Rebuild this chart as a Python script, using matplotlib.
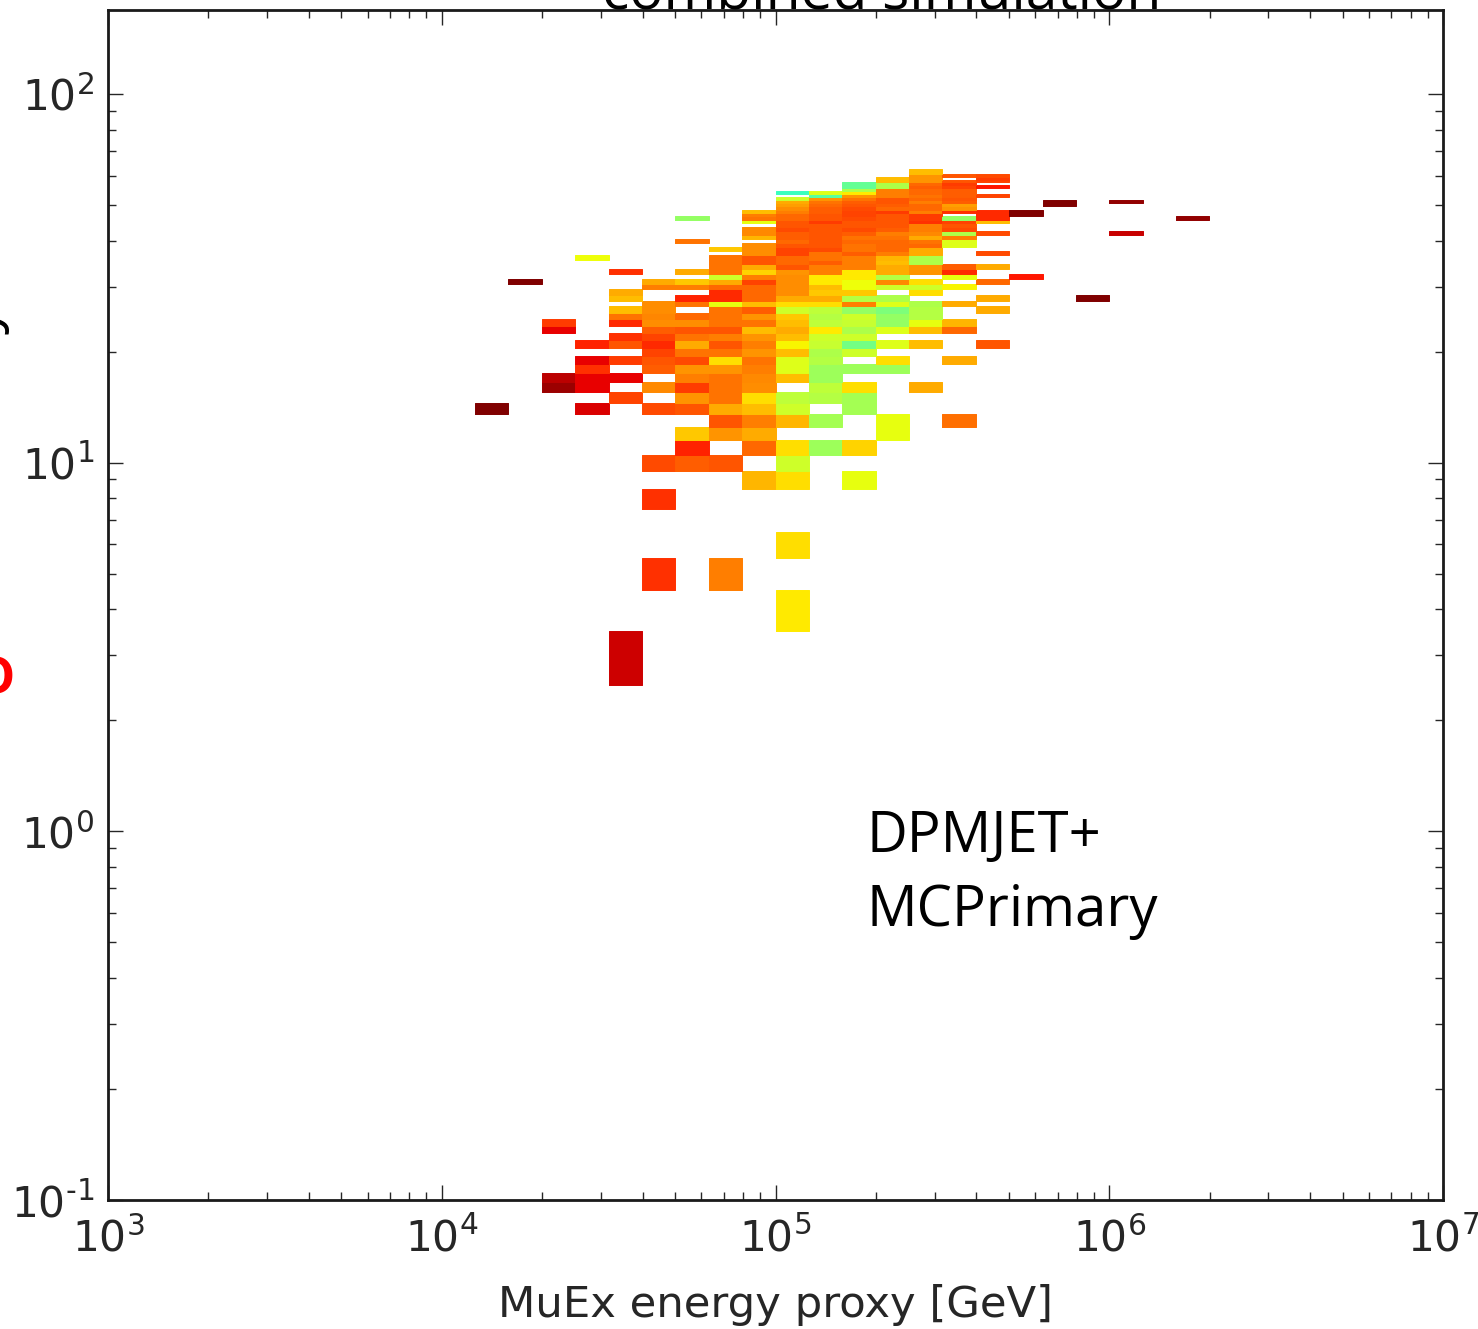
import numpy as np
import matplotlib
matplotlib.use("Agg")
import matplotlib.pyplot as plt
from matplotlib.ticker import FixedFormatter, NullFormatter

W, H = 1478, 1329

# Each column: {multiplicity bin: colour-scale value}; the column's name is log10(E) of the bin's left edge
c41 = {14: 1.0}
c42 = {31: 1.0}
c43 = {24: .83, 23: .90, 17: .94, 16: .97}
c44 = {36: .64, 21: .86, 19: .90, 18: .84, 17: .90, 16: .90, 14: .91}
c45 = {33: .84, 29: .72, 28: .70, 26: .70, 25: .77, 24: .85, 22: .84, 21: .80, 19: .83, 17: .90, 15: .82, 3: .925}
c46 = {31: .72, 30: .76, 27: .745, 26: .745, 25: .755, 24: .745, 23: .79, 22: .82, 21: .85, 20: .82,
       19: .80, 18: .79, 16: .75, 14: .81, 10: .81, 8: .84, 5: .84}
c47 = {46: .53, 40: .77, 33: .72, 31: .69, 30: .76, 28: .86, 27: .77, 25: .78, 24: .745, 23: .80, 22: .77,
       21: .72, 20: .77, 19: .81, 18: .74, 17: .76, 16: .83, 15: .74, 14: .80, 12: .69, 11: .86, 10: .79}
c48 = {38: .69, 36: .77, 35: .77, 34: .77, 33: .77, 32: .60, 31: .72, 30: .78, 29: .85, 28: .85, 27: .63,
       26: .77, 25: .77, 24: .77, 23: .80, 22: .76, 21: .80, 20: .77, 19: .67, 18: .74, 17: .77, 16: .77,
       15: .77, 14: .72, 13: .80, 12: .74, 10: .80, 5: .76}
c49 = {48: .70, 47: .76, 46: .77, 45: .63, 43: .75, 42: .75, 41: .71, 39: .745, 38: .745, 37: .745, 36: .80,
       35: .80, 34: .72, 33: .68, 32: .76, 31: .82, 30: .78, 29: .78, 28: .78, 27: .70, 26: .79, 25: .74,
       24: .77, 23: .70, 22: .74, 21: .76, 20: .74, 19: .77, 18: .76, 17: .75, 16: .745, 15: .67, 14: .70,
       13: .76, 12: .72, 11: .78, 9: .71}
c50 = {54: .42, 52: .60, 51: .72, 50: .73, 49: .745, 48: .76, 47: .78, 46: .78, 45: .80, 44: .80, 43: .81,
       42: .79, 41: .79, 40: .78, 39: .80, 38: .82, 37: .82, 36: .78, 35: .78, 34: .80, 33: .74, 32: .745,
       31: .745, 30: .745, 29: .745, 28: .72, 27: .67, 26: .60, 25: .69, 24: .70, 23: .72, 22: .70, 21: .65,
       20: .70, 19: .62, 18: .62, 17: .70, 15: .58, 14: .60, 13: .71, 11: .67, 10: .60, 9: .67, 6: .67, 4: .66}
c51 = {54: .62, 53: .46, 52: .74, 51: .77, 50: .78, 49: .79, 48: .79, 47: .80, 46: .80, 45: .83, 44: .80,
       43: .80, 42: .80, 41: .80, 40: .80, 39: .80, 38: .81, 37: .77, 36: .77, 35: .79, 34: .76, 33: .76,
       32: .66, 31: .66, 30: .70, 29: .69, 28: .72, 27: .67, 26: .58, 25: .57, 24: .58, 23: .66, 22: .60,
       21: .59, 20: .56, 19: .57, 18: .54, 17: .54, 16: .58, 15: .57, 13: .55, 11: .54}
c52 = {57: .47, 56: .47, 55: .56, 54: .66, 53: .74, 52: .77, 51: .79, 50: .80, 49: .81, 48: .82, 47: .82,
       46: .81, 45: .80, 44: .80, 43: .81, 42: .79, 41: .77, 40: .78, 39: .77, 38: .77, 37: .79, 36: .76,
       35: .76, 34: .76, 33: .66, 32: .66, 31: .64, 30: .64, 29: .69, 28: .57, 27: .76, 26: .53, 25: .60,
       24: .59, 23: .56, 22: .60, 21: .49, 20: .60, 18: .54, 16: .67, 15: .55, 14: .55, 11: .68, 9: .63}
c53 = {59: .70, 58: .70, 57: .56, 56: .56, 55: .76, 54: .76, 53: .76, 52: .80, 51: .80, 50: .79, 49: .78,
       48: .83, 47: .80, 46: .80, 45: .80, 44: .80, 43: .79, 42: .76, 41: .77, 40: .78, 39: .78, 38: .78,
       37: .76, 36: .71, 35: .70, 34: .72, 33: .72, 32: .57, 31: .75, 30: .60, 28: .56, 27: .62, 26: .50,
       25: .53, 24: .53, 23: .62, 21: .62, 19: .67, 18: .54, 13: .63, 12: .63}
c54 = {62: .70, 61: .70, 60: .74, 59: .74, 58: .74, 57: .78, 56: .79, 55: .78, 54: .78, 53: .77, 52: .78,
       51: .76, 50: .78, 49: .78, 48: .76, 47: .83, 46: .83, 45: .84, 44: .76, 43: .76, 42: .75, 41: .72,
       40: .77, 39: .78, 38: .72, 37: .72, 36: .56, 35: .56, 34: .74, 33: .74, 31: .67, 30: .60, 29: .67,
       27: .56, 26: .57, 25: .57, 24: .63, 23: .70, 21: .70, 16: .72}
c55 = {60: .80, 58: .80, 57: .83, 56: .82, 55: .79, 54: .79, 53: .79, 52: .80, 51: .79, 50: .73, 49: .74,
       48: .84, 46: .53, 45: .82, 44: .80, 43: .81, 42: .56, 41: .76, 40: .62, 39: .62, 34: .79, 33: .85,
       32: .63, 30: .65, 27: .72, 24: .71, 23: .78, 19: .72, 13: .775}
c56 = {60: .81, 59: .83, 58: .82, 56: .87, 53: .82, 48: .85, 47: .85, 46: .85, 45: .70, 42: .81, 37: .81,
       34: .72, 31: .78, 28: .72, 26: .72, 21: .80}
c57 = {48: 1.0, 47: 1.0, 32: .87}
c58 = {51: 1.0, 50: 1.0}
c59 = {28: 1.0}
c60 = {51: .98, 42: .93}
c61 = {}
c62 = {46: .98}

columns = [c41, c42, c43, c44, c45, c46, c47, c48, c49, c50, c51, c52,
           c53, c54, c55, c56, c57, c58, c59, c60, c61, c62]
first_bin = 4.1
bin_step = 0.1
x_ticks = [1e3, 1e4, 1e5, 1e6, 1e7]
x_tick_labels = [r"$\mathdefault{10^{3}}$", r"$\mathdefault{10^{4}}$", r"$\mathdefault{10^{5}}$",
                 r"$\mathdefault{10^{6}}$", r"$\mathdefault{10^{7}}$"]
y_ticks = [1e-1, 1e0, 1e1, 1e2]
y_tick_labels = [r"$\mathdefault{10^{\text{-}1}}$", r"$\mathdefault{10^{0}}$",
                 r"$\mathdefault{10^{1}}$", r"$\mathdefault{10^{2}}$"]
x_label = "MuEx energy proxy [GeV]"
note_lines = ["DPMJET+", "MCPrimary"]
clipped_title = "combined simulation"

n_max = 65
x_edges = 10.0 ** (first_bin + bin_step * np.arange(len(columns) + 1))
y_edges = np.arange(1, n_max + 2) - 0.5
cells = np.full((n_max, len(columns)), np.nan)
for i, col in enumerate(columns):
    for n, v in col.items():
        cells[n - 1, i] = v
# colour calibration of the estimates onto the jet scale
cells = np.interp(cells, [0.4, 0.64, 0.8, 0.9, 1.0], [0.4, 0.64, 0.82, 0.91, 1.0])

fig = plt.figure(figsize=(W / 100, H / 100), dpi=100, facecolor="white")
ax = fig.add_axes([108 / W, 1 - 1200 / H, (1443 - 108) / W, (1200 - 10) / H])
ax.pcolormesh(x_edges, y_edges, np.ma.masked_invalid(cells), cmap="jet", vmin=0, vmax=1,
              edgecolors="face", linewidth=0.7, antialiased=True)
ax.set_xscale("log")
ax.set_yscale("log")
ax.set_xlim(1e3, 1e7)
ax.set_ylim(1e-1, 10 ** (1 + (463.5 - 10) / 369.5))
ax.set_xticks(x_ticks)
ax.set_yticks(y_ticks)
ax.xaxis.set_major_formatter(FixedFormatter(x_tick_labels))
ax.yaxis.set_major_formatter(FixedFormatter(y_tick_labels))
ax.xaxis.set_minor_formatter(NullFormatter())
ax.yaxis.set_minor_formatter(NullFormatter())
ink = "#262626"
ax.tick_params(which="major", direction="in", length=10.5, width=1.0, top=True, right=True,
               labelsize=30.5, colors=ink)
ax.tick_params(axis="x", which="major", pad=13)
ax.tick_params(axis="y", which="major", pad=10)
ax.tick_params(which="minor", direction="in", length=5.5, width=1.0, top=True, right=True, colors=ink)
for s in ax.spines.values():
    s.set_linewidth(2.0)
    s.set_color("#1a1a1a")
ax.set_xlabel(x_label, fontsize=31.2, color=ink, labelpad=17)

fig.text(867 / W, 1 - 852 / H, note_lines[0], family="Open Sans", fontsize=40.5, color="black", va="baseline")
fig.text(867 / W, 1 - 926 / H, note_lines[1], family="Open Sans", fontsize=40.5, color="black", va="baseline")
fig.text(882 / W, 1 - 9 / H, clipped_title, family="Open Sans", fontsize=41, color="black",
         ha="center", va="baseline", zorder=5)
# fragments of neighbouring labels cut off at the left edge of the reference
fig.text(10 / W, 1 - 334 / H, "y", family="Open Sans", fontsize=41, color="black", rotation=90,
         ha="right", va="bottom")
fig.text(15 / W, 1 - 693 / H, "o", family="Open Sans", fontsize=48, color="#ff0000", weight="semibold",
         ha="right", va="baseline")
fig.savefig("out.png", dpi=100, facecolor="white")
